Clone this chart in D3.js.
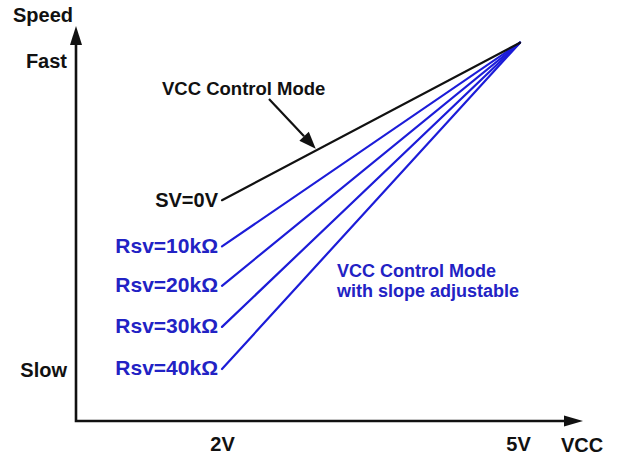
<!DOCTYPE html>
<html>
<head>
<meta charset="utf-8">
<script src="https://cdn.jsdelivr.net/npm/d3@7"></script>
<style>
  body { margin: 0; background: #fff; }
  text { font-family: Arial, "Liberation Sans", sans-serif; font-weight: bold; }
</style>
</head>
<body>
<div id="chart"></div>
<script>
// data (speed in relative units: Slow = 1, Fast = 10)
var vccStart = 2, vccEnd = 5.02;
var curveNames = ["SV=0V", "Rsv=10kΩ", "Rsv=20kΩ", "Rsv=30kΩ", "Rsv=40kΩ"];
var speedAtStart = [5.95, 4.6, 3.45, 2.25, 1.02];
var speedAtEnd = 10.55;
var xTicks = [2, 5];
var xTickLabels = ["2V", "5V"];
var yTicks = [1, 10];
var yTickLabels = ["Slow", "Fast"];

var width = 620, height = 457;
var blue = "#1c1cd8", blueText = "#2222c4";

var svg = d3.select("#chart").append("svg")
    .attr("width", width)
    .attr("height", height);

var x = d3.scaleLinear().domain([2, 5]).range([222, 518]);
var y = d3.scaleLinear().domain([1, 10]).range([369.7, 61.5]);

var x0 = 76, y0 = 421;   // axis corner
var xTip = 583, yTip = 26;

// axes lines
svg.append("path")
  .attr("d", "M" + x0 + "," + (yTip + 10) + "V" + y0 + "H" + (xTip - 10))
  .attr("fill", "none")
  .attr("stroke", "#111")
  .attr("stroke-width", 2.6);

// arrow heads
svg.append("path")
  .attr("d", "M" + x0 + "," + yTip + "L" + (x0 - 6) + "," + (yTip + 19) + "L" + (x0 + 6) + "," + (yTip + 19) + "Z")
  .attr("fill", "#111");
svg.append("path")
  .attr("d", "M" + xTip + "," + y0 + "L" + (xTip - 19) + "," + (y0 - 5.5) + "L" + (xTip - 19) + "," + (y0 + 5.5) + "Z")
  .attr("fill", "#111");

// tick labels through d3 axes
var xAxis = svg.append("g")
  .attr("transform", "translate(0," + y0 + ")")
  .call(d3.axisBottom(x).tickValues(xTicks).tickSize(0).tickPadding(16)
        .tickFormat(function(d, i) { return xTickLabels[i]; }));
var yAxis = svg.append("g")
  .attr("transform", "translate(" + x0 + ",0)")
  .call(d3.axisLeft(y).tickValues(yTicks).tickSize(0).tickPadding(9)
        .tickFormat(function(d, i) { return yTickLabels[i]; }));
svg.selectAll("path.domain").remove();
svg.selectAll(".tick text")
  .style("font-size", "20px")
  .style("font-family", "Arial, 'Liberation Sans', sans-serif")
  .style("font-weight", "bold")
  .attr("fill", "#111");

// axis titles
svg.append("text").attr("x", 13).attr("y", 22)
  .style("font-size", "20px").attr("fill", "#111").text("Speed");
svg.append("text").attr("x", 561).attr("y", 452)
  .style("font-size", "20px").attr("fill", "#111").text("VCC");

// curves
var curves = curveNames.map(function(name, i) {
  return { name: name, pts: [[vccStart, speedAtStart[i]], [vccEnd, speedAtEnd]] };
});

var line = d3.line()
  .x(function(d) { return x(d[0]); })
  .y(function(d) { return y(d[1]); });

// blue first, black on top
svg.append("g")
  .selectAll("path")
  .data(curves.slice().reverse())
  .join("path")
    .attr("d", function(d) { return line(d.pts); })
    .attr("fill", "none")
    .attr("stroke", function(d, i) { return d.name == "SV=0V" ? "#111" : blue; })
    .attr("stroke-width", 2.2)
    .attr("stroke-linecap", "round");

// curve labels
svg.append("g")
  .selectAll("text")
  .data(curves)
  .join("text")
    .attr("x", x(vccStart) - 4)
    .attr("y", function(d) { return y(d.pts[0][1]); })
    .attr("dy", function(d, i) { return i == 0 ? "0.35em" : "0.3em"; })
    .attr("text-anchor", "end")
    .style("font-size", function(d, i) { return i == 0 ? "20px" : "21px"; })
    .attr("fill", function(d, i) { return i == 0 ? "#111" : blueText; })
    .text(function(d) { return d.name; });

// "VCC Control Mode" annotation with arrow
svg.append("text").attr("x", 162).attr("y", 95)
  .style("font-size", "18.5px").attr("fill", "#111").text("VCC Control Mode");

var ax1 = 269, ay1 = 99;
var ax2 = x(2.95), ay2 = y(5.95 + (2.95 - vccStart) / (vccEnd - vccStart) * (speedAtEnd - 5.95)) - 2;
var ang = Math.atan2(ay2 - ay1, ax2 - ax1);
var hl = 17, hw = 6.5;
var bx = ax2 - hl * Math.cos(ang), by = ay2 - hl * Math.sin(ang);
svg.append("line")
  .attr("x1", ax1).attr("y1", ay1).attr("x2", bx).attr("y2", by)
  .attr("stroke", "#111").attr("stroke-width", 2.2);
svg.append("path")
  .attr("d", "M" + ax2 + "," + ay2 +
    "L" + (bx + hw * Math.sin(ang)) + "," + (by - hw * Math.cos(ang)) +
    "L" + (bx - hw * Math.sin(ang)) + "," + (by + hw * Math.cos(ang)) + "Z")
  .attr("fill", "#111");

// blue annotation
svg.append("text").attr("x", 337).attr("y", 277)
  .style("font-size", "18px").attr("fill", blueText).text("VCC Control Mode");
svg.append("text").attr("x", 337).attr("y", 297)
  .style("font-size", "18px").attr("fill", blueText).text("with slope adjustable");
</script>
</body>
</html>
